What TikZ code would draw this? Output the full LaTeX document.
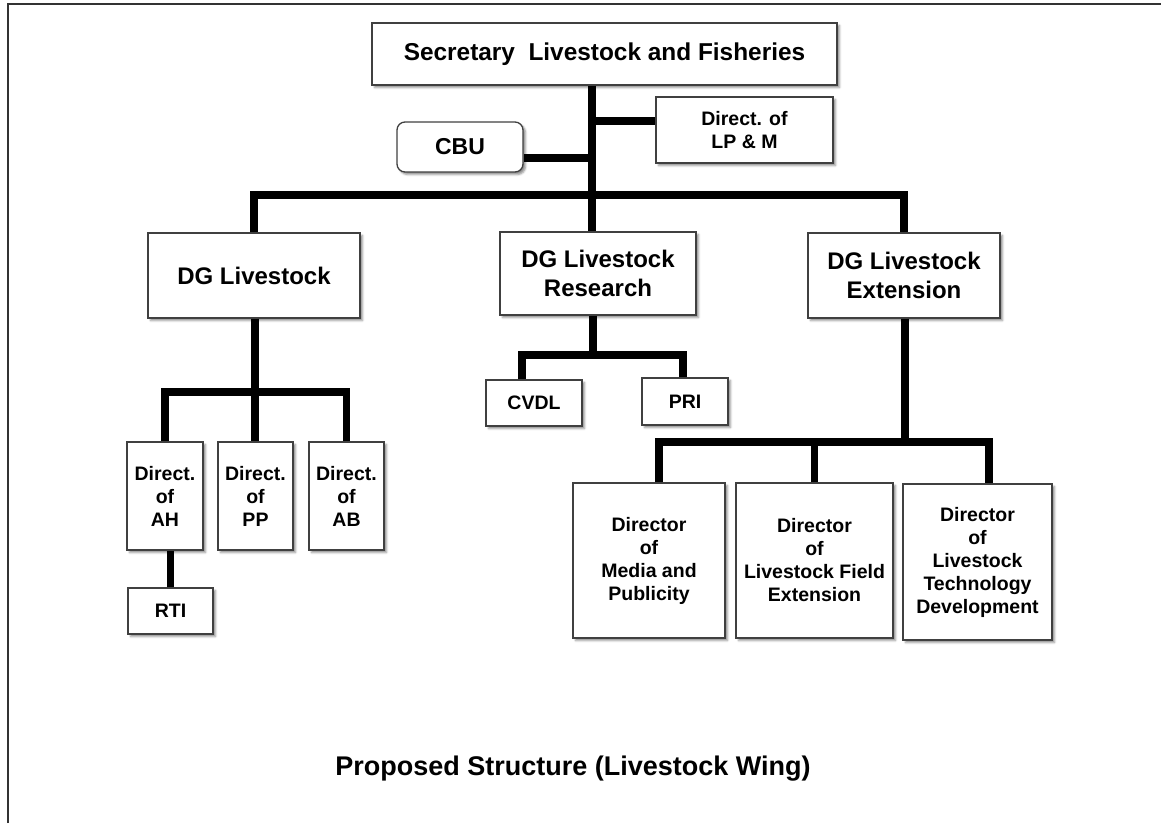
\documentclass[tikz,border=0pt]{standalone}
\usepackage{fontspec}
\setmainfont{Liberation Sans}
\usetikzlibrary{shadows.blur}
\begin{document}
\begin{tikzpicture}[x=1pt,y=-1pt,
  box/.style={draw=black!75, line width=1.3pt, fill=white, inner sep=0pt,
    align=center, font=\bfseries\fontsize{19.5}{23}\selectfont,
    blur shadow={shadow xshift=2.5pt, shadow yshift=-2.5pt,
      shadow blur radius=2pt, shadow opacity=45}},
  bigbox/.style={box, font=\bfseries\fontsize{24}{29}\selectfont},
  bus/.style={line width=7.5pt, line join=miter},
  frame/.style={line width=2pt, draw=black!80}]
\useasboundingbox (0,0) rectangle (1161,823);

% outer frame (top and left edges)
\draw[frame] (8,823) -- (8,4) -- (1161,4);

% top level
\node[bigbox, minimum width=465pt, minimum height=62pt, font=\bfseries\fontsize{24.4}{29}\selectfont]
  (sec) at (604.5,54) {Secretary\ \ Livestock and Fisheries};
\node[box, minimum width=177pt, minimum height=66pt] (lpm) at (744.5,130) {Direct. of\\LP \& M};
\node[bigbox, rounded corners=8pt, minimum width=126pt, minimum height=50pt, font=\bfseries\fontsize{23}{28}\selectfont]
  (cbu) at (460,147) {CBU};

% directorates general
\node[bigbox, minimum width=212pt, minimum height=85pt] (dgl) at (254,275.5) {DG Livestock};
\node[bigbox, minimum width=196pt, minimum height=83pt] (dgr) at (598,273.5) {DG Livestock\\Research};
\node[bigbox, minimum width=192pt, minimum height=85pt] (dge) at (904,275.5) {DG Livestock\\Extension};

% under DG Livestock
\node[box, minimum width=76pt, minimum height=108pt] (ah) at (165,496) {Direct.\\of\\AH};
\node[box, minimum width=75pt, minimum height=108pt] (pp) at (255.5,496) {Direct.\\of\\PP};
\node[box, minimum width=75pt, minimum height=108pt] (ab) at (346.5,496) {Direct.\\of\\AB};
\node[box, minimum width=85pt, minimum height=46pt] (rti) at (170.5,611) {RTI};

% under DG Livestock Research
\node[box, minimum width=96pt, minimum height=46pt] (cvdl) at (534,403) {CVDL};
\node[box, minimum width=86pt, minimum height=47pt] (pri) at (685,401.5) {PRI};

% under DG Livestock Extension
\node[box, minimum width=152pt, minimum height=155pt] (med) at (649,560.5) {Director\\of\\Media and\\Publicity};
\node[box, minimum width=157pt, minimum height=155pt] (fld) at (814.5,560.5) {Director\\of\\Livestock Field\\Extension};
\node[box, minimum width=149pt, minimum height=156pt] (tec) at (977.5,562) {Director\\of\\Livestock\\Technology\\Development};

% caption
\node[anchor=base, font=\bfseries\fontsize{27}{32}\selectfont] (title) at (573,775)
  {Proposed Structure (Livestock Wing)};

% junction points of the connector bars
\coordinate (trunk) at (592,195);
\coordinate (lpmj) at (592,121);
\coordinate (cbuj) at (592,158);
\coordinate (b2) at (255,392);
\coordinate (b3) at (593,355);
\coordinate (cvj) at (522,355);
\coordinate (prj) at (683,355);
\coordinate (b4) at (905,442);
\coordinate (m1) at (659,442);
\coordinate (m3) at (989,442);

% secretary level
\draw[bus] (sec.south -| trunk) -- (dgr.north -| trunk);
\draw[bus] (lpmj) -- (lpmj -| lpm.west);
\draw[bus] (cbuj) -- (cbuj -| cbu.east);
\draw[bus] (dgl.north) -- (dgl.north |- trunk) -- (dge.north |- trunk) -- (dge.north);

% DG Livestock branch
\draw[bus] (b2 |- dgl.south) -- (b2 |- pp.north);
\draw[bus] (ah.north) -- (ah.north |- b2) -- (ab.north |- b2) -- (ab.north);
\draw[bus] (rti.north) -- (rti.north |- ah.south);

% DG Livestock Research branch
\draw[bus] (b3 |- dgr.south) -- (b3);
\draw[bus] (cvj |- cvdl.north) -- (cvj) -- (prj) -- (prj |- pri.north);

% DG Livestock Extension branch
\draw[bus] (b4 |- dge.south) -- (b4);
\draw[bus] (m1 |- med.north) -- (m1) -- (m3) -- (m3 |- tec.north);
\draw[bus] (fld.north) -- (fld.north |- m1);
\end{tikzpicture}
\end{document}
